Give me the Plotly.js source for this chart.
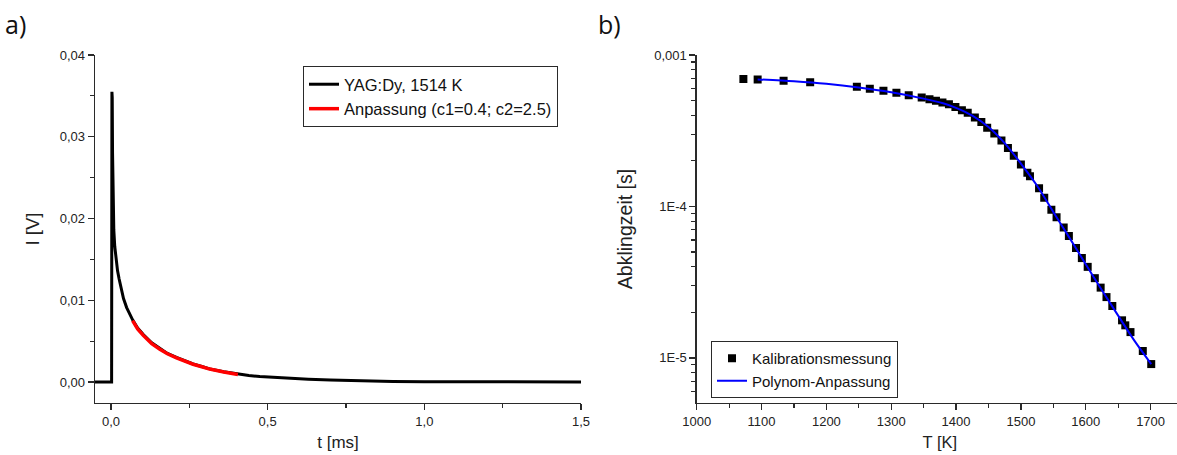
<!DOCTYPE html>
<html>
<head>
<meta charset="utf-8">
<script src="https://cdn.plot.ly/plotly-3.0.1.min.js"></script>
<style>
html,body{margin:0;padding:0;overflow:hidden;background:#fff;width:1177px;height:455px;}
#chart{width:1190px;height:455px;}
</style>
</head>
<body>
<div id="chart"></div>
<script>
// ---- panel a) : decay signal ----
const signalT = [-0.051, 0.0, 0.002, 0.003, 0.004, 0.005, 0.006, 0.007, 0.009, 0.012, 0.016, 0.021, 0.026, 0.033, 0.04, 0.05, 0.06, 0.069, 0.085, 0.103, 0.13, 0.156, 0.18, 0.209, 0.235, 0.262, 0.29, 0.315, 0.36, 0.405, 0.44, 0.475, 0.55, 0.63, 0.7, 0.8, 0.9, 1.0, 1.2, 1.5];
const signalI = [0, 0, 0, 0.0355, 0.0348, 0.028, 0.0235, 0.0208, 0.0186, 0.0166, 0.0149, 0.0136, 0.0126, 0.0113, 0.0102, 0.0091, 0.0082, 0.0076, 0.0066, 0.0058, 0.0048, 0.0041, 0.0035, 0.0030, 0.0026, 0.0022, 0.0019, 0.0016, 0.00125, 0.00095, 0.0008, 0.00066, 0.00048, 0.00034, 0.00024, 0.00014, 0.00007, 0.00004, 0.00001, 0];
const fitT = [0.069, 0.085, 0.103, 0.13, 0.156, 0.18, 0.209, 0.235, 0.262, 0.29, 0.315, 0.36, 0.405];
const fitI = [0.0075, 0.0065, 0.0057, 0.0047, 0.0040, 0.00345, 0.00295, 0.00255, 0.00217, 0.00186, 0.00158, 0.00122, 0.00092];
const signalName = 'YAG:Dy, 1514 K';
const fitName = 'Anpassung (c1=0.4; c2=2.5)';
const aTickVals = [0, 0.5, 1.0, 1.5];
const aTickText = ['0,0', '0,5', '1,0', '1,5'];
const aYTickVals = [0, 0.01, 0.02, 0.03, 0.04];
const aYTickText = ['0,00', '0,01', '0,02', '0,03', '0,04'];

// ---- panel b) : calibration ----
const calT = [1072, 1094, 1134, 1175, 1247, 1267, 1288, 1308, 1327, 1347, 1359, 1369, 1379, 1389, 1399, 1409, 1418, 1429, 1439, 1448, 1459, 1470, 1480, 1489, 1500, 1510, 1514, 1528, 1536, 1547, 1555, 1566, 1574, 1585, 1594, 1603, 1614, 1623, 1632, 1641, 1656, 1661, 1669, 1688, 1701];
const calTau = [6.93e-4, 6.9e-4, 6.76e-4, 6.62e-4, 6.16e-4, 5.98e-4, 5.81e-4, 5.63e-4, 5.43e-4, 5.24e-4, 5.1e-4, 4.98e-4, 4.85e-4, 4.73e-4, 4.54e-4, 4.31e-4, 4.15e-4, 3.86e-4, 3.61e-4, 3.31e-4, 3.03e-4, 2.73e-4, 2.43e-4, 2.16e-4, 1.89e-4, 1.67e-4, 1.58e-4, 1.32e-4, 1.14e-4, 9.5e-5, 8.47e-5, 7.27e-5, 6.37e-5, 5.31e-5, 4.56e-5, 3.99e-5, 3.36e-5, 2.91e-5, 2.52e-5, 2.2e-5, 1.77e-5, 1.64e-5, 1.48e-5, 1.11e-5, 9.1e-6];
const polyT = [1094, 1150, 1200, 1250, 1300, 1350, 1380, 1400, 1425, 1450, 1475, 1500, 1525, 1550, 1575, 1600, 1625, 1650, 1675, 1701];
const polyTau = [6.9e-4, 6.7e-4, 6.45e-4, 6.1e-4, 5.67e-4, 5.15e-4, 4.8e-4, 4.48e-4, 3.98e-4, 3.35e-4, 2.62e-4, 1.92e-4, 1.37e-4, 9.2e-5, 6.2e-5, 4.15e-5, 2.8e-5, 1.9e-5, 1.3e-5, 9.1e-6];
const calName = 'Kalibrationsmessung';
const polyName = 'Polynom-Anpassung';
const bXTickVals = [1000, 1100, 1200, 1300, 1400, 1500, 1600, 1700];
const bYTickVals = [1e-5, 1e-4, 1e-3];
const bYTickText = ['1E-5', '1E-4', '0,001'];
const bYMinorVals = [6e-6, 7e-6, 8e-6, 9e-6, 2e-5, 3e-5, 4e-5, 5e-5, 6e-5, 7e-5, 8e-5, 9e-5, 2e-4, 3e-4, 4e-4, 5e-4, 6e-4, 7e-4, 8e-4, 9e-4];

const W = 1190, H = 455;
const axisCol = '#2a2a2a';
const fam = 'Liberation Sans, Arial, sans-serif';
const font = {family: fam, size: 13, color: '#222'};
const domA = [95 / W, 581 / W];
const domB = [696.7 / W, 1183 / W];
const domY = [(H - 403) / H, (H - 55) / H];

const traces = [
  {x: signalT, y: signalI, name: signalName, type: 'scatter', mode: 'lines',
   line: {color: '#000', width: 3}, xaxis: 'x', yaxis: 'y', legend: 'legend'},
  {x: fitT, y: fitI, name: fitName, type: 'scatter', mode: 'lines',
   line: {color: '#ff0000', width: 3.5}, xaxis: 'x', yaxis: 'y', legend: 'legend'},
  {x: calT, y: calTau, name: calName, type: 'scatter', mode: 'markers',
   marker: {symbol: 'square', size: 8, color: '#000'}, xaxis: 'x2', yaxis: 'y2', legend: 'legend2'},
  {x: polyT, y: polyTau, name: polyName, type: 'scatter', mode: 'lines',
   line: {color: '#0000ff', width: 2, shape: 'spline', smoothing: 0.8}, xaxis: 'x2', yaxis: 'y2', legend: 'legend2'}
];

const base = {showline: true, linecolor: axisCol, linewidth: 1.3, showgrid: false, zeroline: false,
  tickcolor: axisCol, tickwidth: 1.3, ticklen: 6, tickfont: font, fixedrange: true, automargin: false};
const mirrorBase = Object.assign({}, base, {ticks: 'inside', showticklabels: false});
const minorOut = {ticks: 'outside', ticklen: 4, tickcolor: axisCol, tickwidth: 1.2};
const minorIn = {ticks: 'inside', ticklen: 4, tickcolor: axisCol, tickwidth: 1.2};

const layout = {
  width: W, height: H,
  margin: {l: 0, r: 0, t: 0, b: 0},
  paper_bgcolor: '#fff', plot_bgcolor: '#fff',
  font: font,
  showlegend: true,
  xaxis: Object.assign({}, base, {domain: domA, anchor: 'y', range: [-0.051, 1.5], ticks: 'outside',
    tickmode: 'array', tickvals: aTickVals, ticktext: aTickText,
    minor: Object.assign({dtick: 0.25, tick0: 0}, minorOut),
    title: {text: 't [ms]', font: {family: fam, size: 17, color: '#222'}, standoff: 8}}),
  yaxis: Object.assign({}, base, {domain: domY, anchor: 'x', range: [-0.00257, 0.04], ticks: 'outside',
    tickmode: 'array', tickvals: aYTickVals, ticktext: aYTickText,
    minor: Object.assign({dtick: 0.005, tick0: 0}, minorOut),
    title: {text: 'I [V]', font: {family: fam, size: 18.5, color: '#222'}, standoff: 15}}),
  xaxis3: Object.assign({}, mirrorBase, {overlaying: 'x', side: 'top', anchor: 'y', range: [-0.051, 1.5],
    tickmode: 'array', tickvals: aTickVals,
    minor: Object.assign({dtick: 0.25, tick0: 0}, minorIn)}),
  yaxis3: Object.assign({}, mirrorBase, {overlaying: 'y', side: 'right', anchor: 'x', range: [-0.00257, 0.04],
    tickmode: 'array', tickvals: aYTickVals,
    minor: Object.assign({dtick: 0.005, tick0: 0}, minorIn)}),
  xaxis2: Object.assign({}, base, {domain: domB, anchor: 'y2', range: [1000, 1750], ticks: 'outside',
    tickmode: 'array', tickvals: bXTickVals, ticktext: bXTickVals.map(String),
    minor: Object.assign({dtick: 50, tick0: 1000}, minorOut),
    title: {text: 'T [K]', font: {family: fam, size: 16.5, color: '#222'}, standoff: 8}}),
  yaxis2: Object.assign({}, base, {domain: domY, anchor: 'x2', type: 'log', range: [-5.298, -3], ticks: 'outside',
    tickmode: 'array', tickvals: bYTickVals, ticktext: bYTickText,
    minor: Object.assign({tickmode: 'array', tickvals: bYMinorVals}, minorOut),
    title: {text: 'Abklingzeit [s]', font: {family: fam, size: 19.5, color: '#222'}, standoff: 16}}),
  xaxis4: Object.assign({}, mirrorBase, {overlaying: 'x2', side: 'top', anchor: 'y2', range: [1000, 1750],
    tickmode: 'array', tickvals: bXTickVals,
    minor: Object.assign({dtick: 50, tick0: 1000}, minorIn)}),
  yaxis4: Object.assign({}, mirrorBase, {overlaying: 'y2', side: 'right', anchor: 'x2', type: 'log', range: [-5.298, -3],
    tickmode: 'array', tickvals: bYTickVals,
    minor: Object.assign({tickmode: 'array', tickvals: bYMinorVals}, minorIn)}),
  legend: {x: 303 / W, y: (H - 66) / H, xanchor: 'left', yanchor: 'top', bgcolor: '#fff',
    bordercolor: axisCol, borderwidth: 1, font: {family: fam, size: 16.5, color: '#111'},
    tracegroupgap: 0, itemwidth: 30},
  legend2: {x: 711 / W, y: (H - 341) / H, xanchor: 'left', yanchor: 'top', bgcolor: '#fff',
    bordercolor: axisCol, borderwidth: 1, font: {family: fam, size: 15, color: '#111'},
    tracegroupgap: 0, itemwidth: 30},
  annotations: [
    {text: 'a)', x: 15 / W, y: (H - 24) / H, xref: 'paper', yref: 'paper', xanchor: 'center', yanchor: 'middle',
     showarrow: false, font: {family: 'Open Sans, sans-serif', size: 25, color: '#111'}},
    {text: 'b)', x: 609 / W, y: (H - 24) / H, xref: 'paper', yref: 'paper', xanchor: 'center', yanchor: 'middle',
     showarrow: false, font: {family: 'Open Sans, sans-serif', size: 25, color: '#111'}}
  ]
};

Plotly.newPlot('chart', traces, layout, {staticPlot: true, displayModeBar: false});
</script>
</body>
</html>
